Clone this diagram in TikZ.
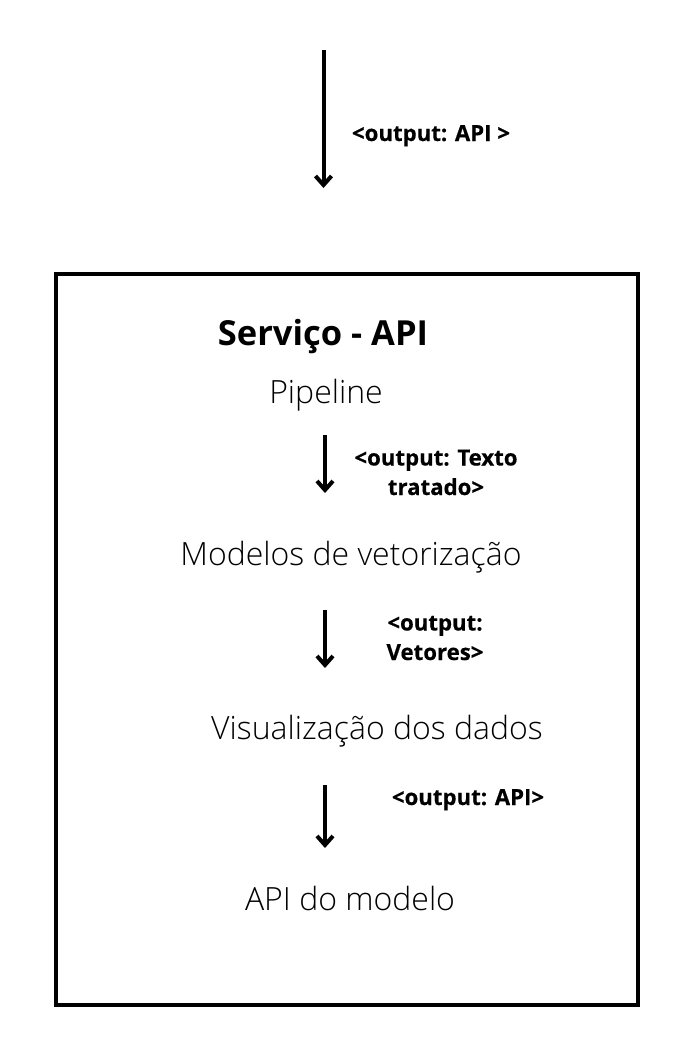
\documentclass[tikz,border=0pt]{standalone}
\usepackage{fontspec}
\setmainfont{Open Sans}
\newfontfamily\lightfont{Open Sans Light}
\newfontfamily\labfont{Open Sans}[BoldFeatures={FakeBold=0.4}]
\usetikzlibrary{arrows.meta}
\begin{document}
\begin{tikzpicture}[x=1pt,y=-1pt,
  arr/.style={line width=4pt,-{Straight Barb[length=9pt,width=16pt]}},
  lab/.style={font=\labfont\bfseries\fontsize{22.2}{29.5}\selectfont, align=center, inner sep=0pt, anchor=base},
  ttl/.style={font=\bfseries\fontsize{34.5}{40}\selectfont, inner sep=0pt, anchor=base},
  item/.style={font=\lightfont\fontsize{32}{38}\selectfont, inner sep=0pt, anchor=base},
  frame/.style={draw, line width=3.5pt}]
\useasboundingbox (0,0) rectangle (690,1058);
\node[frame, minimum width=582pt, minimum height=731pt, anchor=north west, inner sep=0pt] (box) at (54,272) {};
\coordinate (a0s) at (323.5,50);
\coordinate (a0e) at (323.5,188);
\draw[arr] (a0s) -- (a0e);
\node[lab] (l0) at (431,141) {<output: API >};
\node[ttl] (title) at (323,345) {Serviço - API};
\node[item] (pipe) at (326,403) {Pipeline};
\coordinate (a1s) at (325,435);
\coordinate (a1e) at (325,493);
\draw[arr] (a1s) -- (a1e);
\node[lab] (l1) at (436,495) {<output: Texto\\tratado>};
\node[item] (mod) at (351,565) {Modelos de vetorização};
\coordinate (a2s) at (325,610);
\coordinate (a2e) at (325,668);
\draw[arr] (a2s) -- (a2e);
\node[lab] (l2) at (435,660) {<output:\\Vetores>};
\node[item] (vis) at (377,739) {Visualização dos dados};
\coordinate (a3s) at (325,785);
\coordinate (a3e) at (325,848);
\draw[arr] (a3s) -- (a3e);
\node[lab] (l3) at (468,805) {<output: API>};
\node[item] (apim) at (350,910) {API do modelo};
\end{tikzpicture}
\end{document}
